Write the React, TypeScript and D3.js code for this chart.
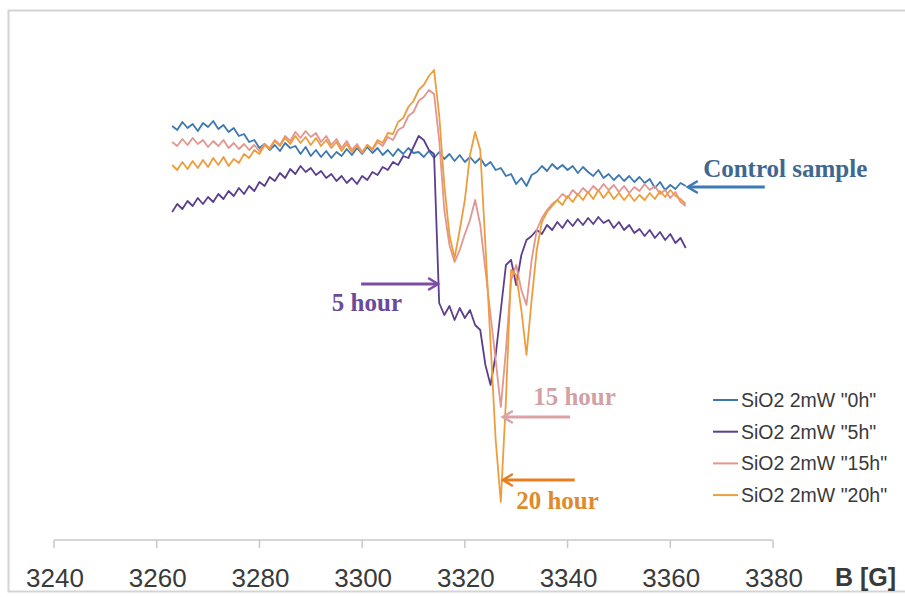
import React from 'react'
import * as d3 from 'd3'

// field axis, gauss
const B_START = 3263
const B_TICKS = [3240, 3260, 3280, 3300, 3320, 3340, 3360, 3380]

// EPR signal (a.u.), one value per gauss from 3263 to 3363
const sig0h = [
  3.4, 3.0, 3.8, 3.2, 3.6, 2.9, 3.7, 3.3, 3.9, 3.1,
  3.5, 2.8, 3.2, 2.4, 2.6, 1.8, 2.0, 1.2, 1.6, 1.0,
  1.5, 0.9, 1.7, 1.2, 1.4, 0.6, 1.3, 0.4, 1.0, 0.3,
  0.9, 0.2, 0.8, 0.4, 1.1, 0.5, 1.2, 0.6, 1.3, 0.7,
  1.2, 0.5, 1.0, 0.4, 1.1, 0.6, 1.2, 0.7, 0.8, 0.3,
  0.9, 0.2, 0.8, 0.1, 0.6, -0.1, 0.5, -0.2, 0.3, -0.3,
  0.2, -0.6, -0.2, -1.0, -0.8, -1.6, -1.4, -2.4, -1.8, -2.6,
  -1.5, -1.2, -0.6, -1.1, -0.4, -0.9, -0.5, -1.0, -0.6, -1.3,
  -0.7, -1.2, -1.6, -1.0, -1.8, -1.4, -2.0, -1.5, -2.1, -1.6,
  -2.2, -1.7, -2.3, -1.9, -2.8, -2.2, -3.0, -2.5, -2.9, -2.3,
  -2.6,
]

const sig5h = [
  -5.2, -4.4, -4.9, -4.1, -4.6, -3.8, -4.4, -3.7, -4.2, -3.4,
  -3.9, -3.1, -3.6, -2.8, -3.4, -2.6, -3.1, -2.2, -2.6, -1.7,
  -2.1, -1.3, -1.8, -0.9, -1.4, -0.6, -1.2, -0.8, -1.5, -1.1,
  -1.8, -1.4, -2.1, -1.6, -2.3, -1.8, -2.4, -1.6, -2.0, -1.2,
  -1.5, -0.7, -1.0, -0.2, -0.5, 0.4, 0.2, 1.3, 2.4, 2.0,
  1.0, 0.6, -14.3, -15.5, -14.6, -16.0, -14.8, -15.8, -15.0, -16.5,
  -17.0, -20.5, -22.5, -19.5, -15.0, -10.5, -10.0, -12.5, -9.5, -8.0,
  -7.6, -7.0, -7.4, -6.5, -7.0, -6.2, -6.8, -6.0, -6.6, -5.9,
  -6.5, -5.8, -6.4, -5.7, -6.3, -6.0, -6.8, -6.2, -7.0, -6.5,
  -7.3, -6.9, -7.6, -7.0, -7.8, -7.2, -8.0, -7.4, -8.3, -7.8,
  -8.8,
]

const sig15h = [
  1.8, 1.4, 2.1, 1.5, 2.2, 1.6, 2.0, 1.3, 1.9, 1.4,
  2.0, 1.2, 1.7, 1.1, 1.6, 1.0, 1.5, 0.9, 1.6, 1.2,
  2.0, 1.5, 2.4, 1.9, 2.8, 2.2, 2.9, 2.3, 2.7, 1.8,
  2.4, 1.5, 2.1, 1.2, 1.9, 1.0, 1.6, 0.8, 1.5, 1.0,
  1.8, 1.4, 2.3, 2.0, 3.0, 3.3, 4.4, 4.8, 5.9, 6.3,
  7.0, 6.6, 2.0, -5.0, -8.5, -10.2, -9.0, -7.4, -6.0, -4.0,
  -6.5, -11.0, -15.5, -20.0, -24.7, -19.0, -12.0, -10.5, -13.0, -14.5,
  -10.0, -7.0, -5.8, -5.0, -4.4, -4.0, -3.4, -3.8, -3.0, -3.5,
  -2.8, -3.3, -2.6, -3.1, -2.4, -3.0, -2.5, -3.2, -2.6, -3.3,
  -2.7, -3.1, -2.4, -3.0, -2.6, -3.4, -3.0, -3.8, -3.2, -4.2,
  -4.6,
]

const sig20h = [
  -0.5, -1.0, -0.2, -0.9, -0.1, -0.8, 0.0, -0.7, 0.2, -0.5,
  0.3, -0.6, 0.1, -0.3, 0.6, 0.2, 1.0, 0.6, 1.5, 1.1,
  1.9, 1.4, 2.2, 1.6, 2.4, 1.7, 2.3, 1.5, 2.2, 1.4,
  2.0, 1.2, 1.8, 0.9, 1.6, 0.8, 1.4, 0.7, 1.5, 1.1,
  2.0, 1.7, 2.7, 2.6, 3.8, 4.2, 5.3, 5.9, 7.0, 7.5,
  8.4, 9.0, 4.5, -2.5, -7.5, -9.8, -7.0, -4.0, 0.5, 2.8,
  1.0, -8.5, -18.3, -28.0, -34.2, -24.0, -11.0, -11.5, -15.0, -19.5,
  -14.0, -9.0, -6.2, -5.2, -4.6, -4.0, -4.5, -3.6, -4.2, -3.4,
  -4.0, -3.2, -3.9, -3.0, -3.8, -3.1, -3.9, -3.3, -4.0, -3.4,
  -4.1, -3.5, -4.0, -3.3, -3.9, -3.1, -3.7, -3.0, -3.6, -3.9,
  -4.4,
]

const seriesNames = ['SiO2 2mW "0h"', 'SiO2 2mW "5h"', 'SiO2 2mW "15h"', 'SiO2 2mW "20h"']
const seriesColors = ['#3b78b2', '#5b3f8e', '#e3958f', '#ee9d3c']
const seriesData = [sig0h, sig5h, sig15h, sig20h]

// arrow labels, all in data units: arrow tip, arrow tail, text start / baseline
const notes = [
  { text: '5 hour', tipB: 3314.8, tipV: -12.4, tailB: 3299.8, textB: 3294.1, textV: -15.1, color: '#6a4a9c', arrow: '#7b4ea3' },
  { text: '15 hour', tipB: 3327.4, tipV: -25.7, tailB: 3340.5, textB: 3333.3, textV: -24.5, color: '#d3a1a3', arrow: '#d9a3a8' },
  { text: '20 hour', tipB: 3327.4, tipV: -32.0, tailB: 3341.4, textB: 3330.0, textV: -34.9, color: '#e08a2c', arrow: '#e67e22' },
  { text: 'Control sample', tipB: 3363.4, tipV: -2.7, tailB: 3378.4, textB: 3366.4, textV: -1.7, color: '#3e6890', arrow: '#3d7ab5' },
]

const W = 905
const H = 597

export default function App() {
  const x = d3.scaleLinear().domain([3240, 3380]).range([54, 773])
  const y = d3.scaleLinear().domain([-35, 10]).range([510, 60])
  const axisY = 540

  const line = d3.line<number>()
    .x((_, i) => x(B_START + i))
    .y(v => y(v))

  const serif = '"Liberation Serif", "Times New Roman", serif'
  const sans = '"Liberation Sans", Arial, sans-serif'

  return (
    <svg width={W} height={H} style={{ position: 'absolute', left: 0, top: 0, background: '#fff' }}>
      <rect x={8.5} y={10.5} width={900} height={581} fill="#fff" stroke="#d4d4d4" strokeWidth={2} />

      {/* x axis */}
      <line x1={x(3240)} x2={x(3380)} y1={axisY} y2={axisY} stroke="#c8c8c8" strokeWidth={1.5} />
      {B_TICKS.map(t => (
        <g key={t}>
          <line x1={x(t)} x2={x(t)} y1={axisY} y2={axisY + 8} stroke="#c8c8c8" strokeWidth={1.5} />
          <text x={x(t) + 1} y={587} textAnchor="middle" fontFamily={sans} fontSize={26} fill="#3a3a3a">{t}</text>
        </g>
      ))}
      <text x={835} y={586} fontFamily={sans} fontSize={25} fontWeight="bold" fill="#3a3a3a">B [G]</text>

      {/* curves */}
      {seriesData.map((d, k) => (
        <path key={k} d={line(d) || ''} fill="none" stroke={seriesColors[k]} strokeWidth={1.8} strokeLinejoin="round" />
      ))}

      {/* annotations */}
      {notes.map(n => {
        const tx = x(n.tipB)
        const ty = y(n.tipV)
        const sx = x(n.tailB)
        const dir = sx > tx ? 1 : -1
        return (
          <g key={n.text}>
            <line x1={sx} x2={tx + dir * 2} y1={ty} y2={ty} stroke={n.arrow} strokeWidth={3} />
            <polyline points={`${tx + dir * 10},${ty - 6} ${tx},${ty} ${tx + dir * 10},${ty + 6}`}
              fill="none" stroke={n.arrow} strokeWidth={2.5} />
            <text x={x(n.textB)} y={y(n.textV)}
              fontFamily={serif} fontWeight="bold" fontSize={25} fill={n.color}>{n.text}</text>
          </g>
        )
      })}

      {/* legend */}
      {seriesNames.map((name, k) => {
        const ly = 400 + k * 31.7
        return (
          <g key={name}>
            <line x1={713} x2={738} y1={ly} y2={ly} stroke={seriesColors[k]} strokeWidth={2} />
            <text x={741} y={ly + 7} fontFamily={sans} fontSize={19.5} fill="#3a3a3a">{name}</text>
          </g>
        )
      })}
    </svg>
  )
}
